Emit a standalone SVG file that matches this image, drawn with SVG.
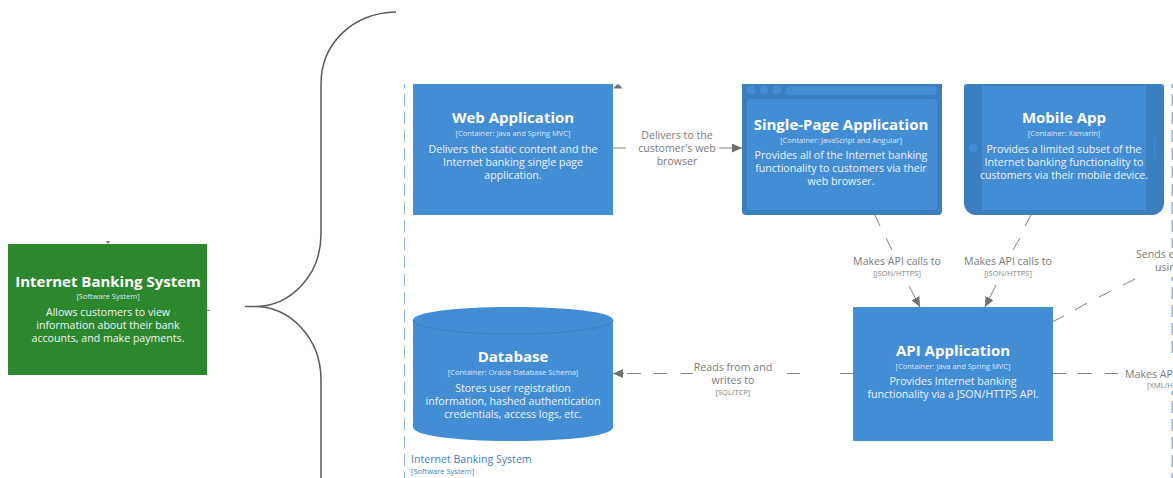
<svg xmlns="http://www.w3.org/2000/svg" width="1173" height="478" viewBox="0 0 1173 478">
<defs>
<marker id="ah" viewBox="0 0 10 10" refX="10" refY="5" markerWidth="10" markerHeight="9" markerUnits="userSpaceOnUse" orient="auto" preserveAspectRatio="none"><path d="M0 0L10 5L0 10Z" fill="#707070"/></marker>
</defs>
<style>
text{font-family:"Open Sans","Noto Sans","Liberation Sans",sans-serif;text-anchor:middle}
.n{font-size:15px;font-weight:700;fill:#fff}
.m{font-size:7.500px;fill:#dbe8f5}
.d{font-size:10.600px;fill:#eef4fa}
.l{font-size:10.600px;fill:#7a7a7a}
.t{font-size:7.500px;fill:#7f7f7f}
.c{fill:none;stroke:#808080;stroke-width:1}
.b{fill:#438dd5}
.bd{fill:#3c7fc0}
.edge{fill:none;stroke:#8fb4d6;stroke-width:1;stroke-dasharray:12 6;stroke-dashoffset:8}
.s{text-anchor:start}
.bl{fill:#3f7fbf}
</style>
<rect width="1173" height="478" fill="#fff"/>
<g id="connectors">
<path d="M396 12C352 13 321 44 321 84V234C321 276 290 306.500 255 306.500H245H255C290 306.500 321 338 321 380V478" fill="none" stroke="#5a5a5a" stroke-width="1.500"/>
<path class="c" d="M207 310.500H210"/>
<path d="M106 241H110L108 244Z" fill="#707070"/>
<path d="M613 88.500L617 84.500Q618 84 619 84.500L622.500 88.500Z" fill="#707070"/>
<path class="c" d="M613 148H626"/>
<path class="c" d="M719 148H742" marker-end="url(#ah)"/>
<path class="c" d="M875 215L880 226M886 238L892 250"/>
<path class="c" d="M909 286L920 307" marker-end="url(#ah)"/>
<path class="c" d="M1031 215L1025 226M1020 238L1013 250"/>
<path class="c" d="M996 285L985 307" marker-end="url(#ah)"/>
<path class="c" d="M1053 321.500L1064 316M1075 310L1087 303M1099 297L1111 291M1123 285L1135 279"/>
<path class="c" d="M1053 373.500H1066M1078 373.500H1092M1105 373.500H1118"/>
<path class="c" d="M853 373.500H840M800 373.500H787"/>
<path class="c" d="M693 373.500H681M667 373.500H654M641 373.500H627"/>
<path class="c" d="M624 373.500H613" marker-end="url(#ah)"/>
</g>
<g id="boundary">
<path class="edge" d="M404.500 84V478"/>
<path class="edge" d="M1172.500 84V248M1172.500 277V358M1172.500 391V478" style="stroke-width:2"/>
<text class="s bl" x="411" y="463" font-size="10.600">Internet Banking System</text>
<text class="s bl" x="411" y="474" font-size="7.500">[Software System]</text>
</g>
<g id="internet-banking-system">
<rect x="8" y="244" width="199" height="131" fill="#2d882d"/>
<text class="n" x="108" y="287">Internet Banking System</text>
<text class="m" x="108" y="299">[Software System]</text>
<text class="d" x="108" y="316">Allows customers to view</text>
<text class="d" x="108" y="329">information about their bank</text>
<text class="d" x="108" y="342">accounts, and make payments.</text>
</g>
<g id="web-application">
<rect class="b" x="413" y="84" width="200" height="131"/>
<text class="n" x="513" y="123">Web Application</text>
<text class="m" x="513" y="136">[Container: Java and Spring MVC]</text>
<text class="d" x="513" y="153">Delivers the static content and the</text>
<text class="d" x="513" y="166">Internet banking single page</text>
<text class="d" x="513" y="179">application.</text>
</g>
<g id="single-page-application">
<path class="bd" d="M742 84H942V211a4 4 0 0 1-4 4H746a4 4 0 0 1-4-4Z"/>
<rect class="b" x="747" y="99" width="190" height="111" rx="3"/>
<circle class="b" cx="751" cy="90" r="4.500"/><circle class="b" cx="764" cy="90" r="4.500"/><circle class="b" cx="777" cy="90" r="4.500"/>
<rect class="b" x="786" y="86" width="151" height="9" rx="4"/>
<text class="n" x="841" y="130">Single-Page Application</text>
<text class="m" x="841" y="143">[Container: JavaScript and Angular]</text>
<text class="d" x="841" y="159">Provides all of the Internet banking</text>
<text class="d" x="841" y="172">functionality to customers via their</text>
<text class="d" x="841" y="185">web browser.</text>
</g>
<g id="mobile-app">
<path class="bd" d="M967 84H1161a3 3 0 0 1 3 3V203a12 12 0 0 1-12 12H976a12 12 0 0 1-12-12V87a3 3 0 0 1 3-3Z"/>
<rect class="b" x="982" y="86" width="164" height="124"/>
<circle class="b" cx="973" cy="148" r="4.500"/>
<rect class="b" x="1154" y="137" width="1" height="21"/>
<text class="n" x="1064" y="123">Mobile App</text>
<text class="m" x="1064" y="136">[Container: Xamarin]</text>
<text class="d" x="1064" y="153">Provides a limited subset of the</text>
<text class="d" x="1064" y="166">Internet banking functionality to</text>
<text class="d" x="1064" y="179">customers via their mobile device.</text>
</g>
<g id="api-application">
<rect class="b" x="853" y="307" width="200" height="134"/>
<text class="n" x="953" y="356">API Application</text>
<text class="m" x="953" y="369">[Container: Java and Spring MVC]</text>
<text class="d" x="953" y="385">Provides Internet banking</text>
<text class="d" x="953" y="398">functionality via a JSON/HTTPS API.</text>
</g>
<g id="database">
<path class="b" d="M413 320C413 312 458 307 513 307S613 312 613 320V427C613 436 568 441 513 441S413 436 413 427Z"/>
<path d="M413 320C413 328 458 334 513 334S613 328 613 320" fill="none" stroke="#3c7fc0" stroke-width="1"/>
<text class="n" x="513" y="362">Database</text>
<text class="m" x="513" y="375">[Container: Oracle Database Schema]</text>
<text class="d" x="513" y="392">Stores user registration</text>
<text class="d" x="513" y="405">information, hashed authentication</text>
<text class="d" x="513" y="418">credentials, access logs, etc.</text>
</g>
<g id="labels">
<text class="l" x="677" y="139">Delivers to the</text>
<text class="l" x="677" y="152">customer's web</text>
<text class="l" x="677" y="165">browser</text>
<text class="l" x="897" y="265">Makes API calls to</text>
<text class="t" x="897" y="276">[JSON/HTTPS]</text>
<text class="l" x="1008" y="265">Makes API calls to</text>
<text class="t" x="1008" y="276">[JSON/HTTPS]</text>
<text class="l" x="733" y="371">Reads from and</text>
<text class="l" x="733" y="384">writes to</text>
<text class="t" x="733" y="395">[SQL/TCP]</text>
<text class="l s" x="1136" y="258">Sends e</text>
<text class="l s" x="1155" y="271">usin</text>
<text class="l s" x="1125" y="378">Makes AP</text>
<text class="t s" x="1147" y="388">[XML/H</text>
</g>
</svg>
